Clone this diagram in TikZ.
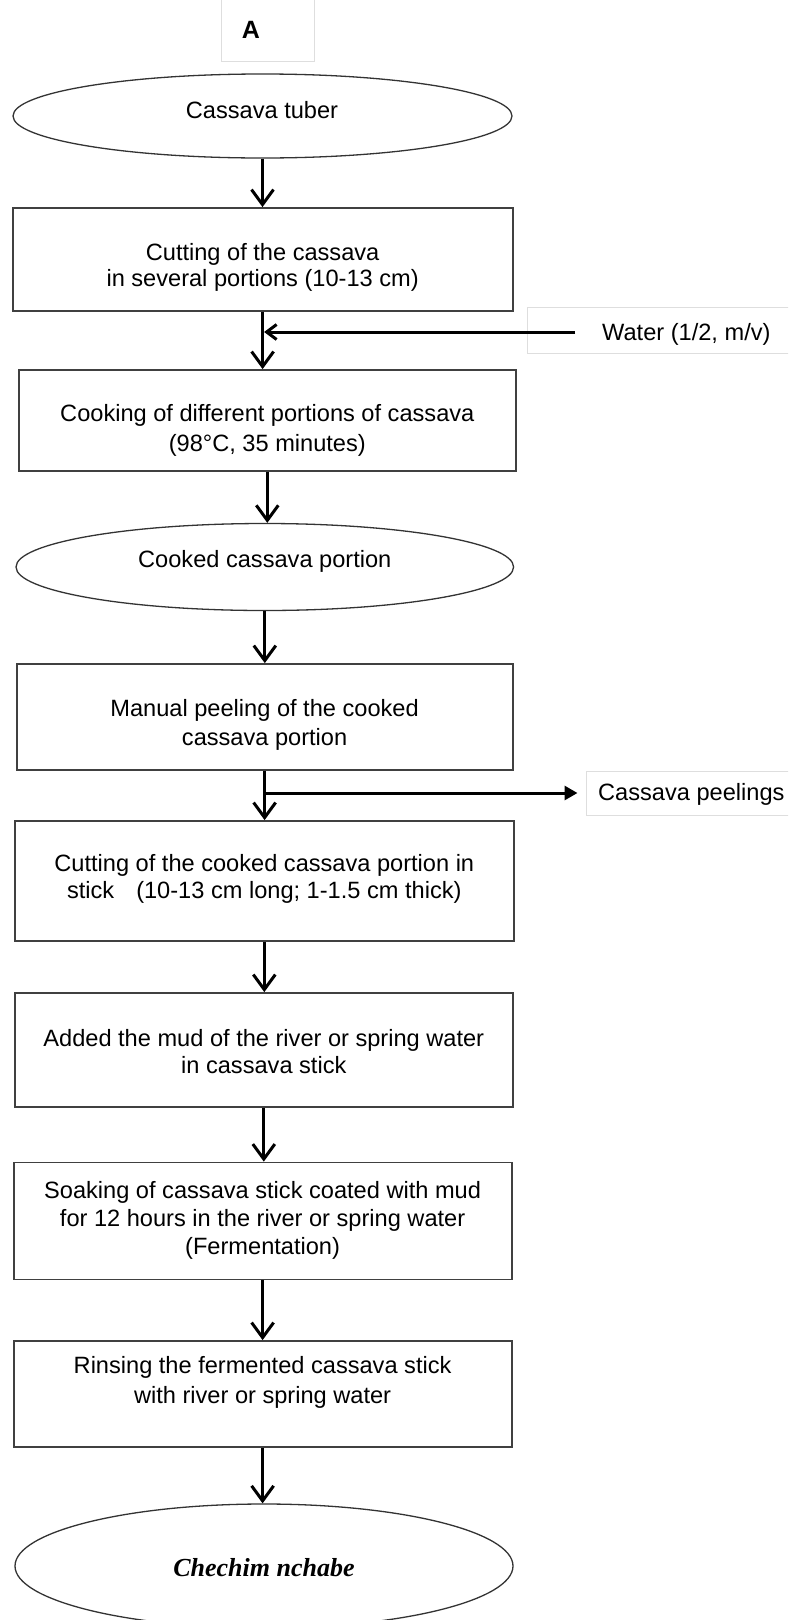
\documentclass[tikz,border=0pt]{standalone}
\usepackage{fontspec}
\setmainfont{Liberation Sans}
\newfontfamily\chfont{Liberation Serif}
\usetikzlibrary{arrows.meta,shapes.geometric}
\begin{document}
\begin{tikzpicture}[x=1pt,y=-1pt,
  stepbox/.style={draw=black!75, line width=1.8pt, rectangle, inner sep=0pt},
  oval/.style={draw=black!80, line width=1.3pt, ellipse, inner sep=0pt},
  txt/.style={font={\fontsize{23.6pt}{#1pt}\selectfont\lineskiplimit=-30pt\relax}, align=center, inner sep=0pt},
  txt/.default=28,
  sidebox/.style={draw=black!13, line width=1pt, rectangle, inner sep=0pt},
  arr/.style={line width=3pt, -{Straight Barb[length=15pt,width=22pt]}},
  arrw/.style={line width=3pt, -{Straight Barb[length=10pt,width=15pt]}},
  arrp/.style={line width=3pt, -{Triangle[length=13pt,width=14pt]}},
]
\clip (0,0) rectangle (788,1620);
\fill[white] (0,0) rectangle (788,1620);

% label A
\node[sidebox, minimum width=93pt, minimum height=72pt] (abox) at (267.5,25) {};
\node[font={\fontsize{25pt}{30pt}\selectfont\bfseries}, inner sep=0pt, anchor=base] (alab) at (251,38) {A};

% ellipse 1
\node[oval, minimum width=499pt, minimum height=84pt] (e1) at (262.5,116) {};
\node[txt, anchor=base] (e1t) at (262,118) {Cassava tuber};

% box 1
\node[stepbox, minimum width=500pt, minimum height=103pt] (b1) at (262.6,259.5) {};
\node[txt=26] (b1t) at (262.6,267) {Cutting of the cassava\\in several portions (10-13 cm)};

% water
\node[sidebox, minimum width=283pt, minimum height=46pt] (wbox) at (668.5,330) {};
\node[txt, anchor=base west] (wtxt) at (602,340) {Water (1/2, m/v)};

% box 2
\node[stepbox, minimum width=497.4pt, minimum height=101pt] (b2) at (267.3,420.5) {};
\node[txt=30] (b2t) at (267.3,430.5) {Cooking of different portions of cassava\\(98°C, 35 minutes)};

% ellipse 2
\node[oval, minimum width=497.6pt, minimum height=87pt] (e2) at (264.8,567) {};
\node[txt, anchor=base] (e2t) at (264.8,567) {Cooked cassava portion};

% box 3
\node[stepbox, minimum width=496pt, minimum height=106pt] (b3) at (264.6,717) {};
\node[txt=29] (b3t) at (264.6,725) {Manual peeling of the cooked\\cassava portion};

% peelings
\node[sidebox, minimum width=224pt, minimum height=44pt] (pbox) at (698,793) {};
\node[txt, anchor=base west] (ptxt) at (598,800) {Cassava peelings};

% box 4
\node[stepbox, minimum width=498.6pt, minimum height=120pt] (b4) at (264.3,881) {};
\node[txt=27] (b4t) at (264.3,879) {Cutting of the cooked cassava portion in\\stick\hspace{22pt}(10-13 cm long; 1-1.5 cm thick)};

% box 5
\node[stepbox, minimum width=497.6pt, minimum height=114pt] (b5) at (263.8,1050) {};
\node[txt=27] (b5t) at (263.8,1052) {Added the mud of the river or spring water\\in cassava stick};

% box 6
\node[stepbox, minimum width=498pt, minimum height=117pt] (b6) at (262.6,1221) {};
\node[txt=28] (b6t) at (262.6,1220) {Soaking of cassava stick coated with mud\\for 12 hours in the river or spring water\\(Fermentation)};

% box 7
\node[stepbox, minimum width=498pt, minimum height=106pt] (b7) at (262.6,1394) {};
\node[txt=30] (b7t) at (262.6,1382.5) {Rinsing the fermented cassava stick\\with river or spring water};

% ellipse 3
\node[oval, minimum width=498pt, minimum height=124pt] (e3) at (264,1566) {};
\node[font={\fontsize{26pt}{30pt}\chfont\bfseries\itshape}, inner sep=0pt, anchor=base] (e3t) at (264,1576) {Chechim nchabe};

% connectors
\draw[arr] (e1.south) -- (e1.south |- b1.north);
\draw[arr] (b1.south) -- (b1.south |- b2.north);
\draw[arr] (b2.south) -- (b2.south |- e2.north);
\draw[arr] (e2.south) -- (e2.south |- b3.north);
\draw[arr] (b3.south) -- (b3.south |- b4.north);
\draw[arr] (b4.south) -- (b4.south |- b5.north);
\draw[arr] (b5.south) -- (b5.south |- b6.north);
\draw[arr] (b6.south) -- (b6.south |- b7.north);
\draw[arr] (b7.south) -- (b7.south |- e3.north);

\coordinate (wst) at (575,332);
\coordinate (wj) at (b1.south |- wst);
\draw[arrw, shorten >=1.5pt] (wst) -- (wj);

\coordinate (pj) at (b3.south |- pbox.west);
\draw[arrp, shorten >=8pt] (pj) -- (pbox.west);
\end{tikzpicture}
\end{document}
